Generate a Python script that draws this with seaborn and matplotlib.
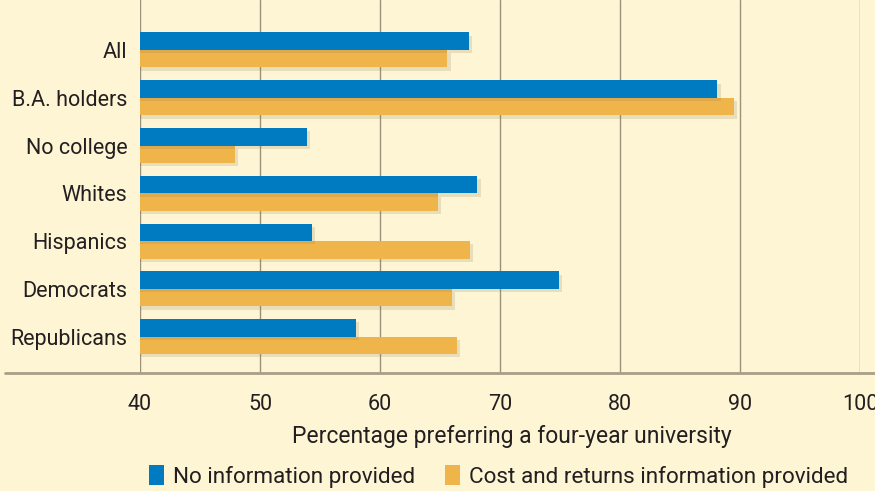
import matplotlib
matplotlib.use("Agg")
import matplotlib.pyplot as plt
import matplotlib.patheffects as pe
from matplotlib.patches import Patch
import seaborn as sns
import pandas as pd

categories = ["All", "B.A. holders", "No college", "Whites", "Hispanics", "Democrats", "Republicans"]
no_info = [67.4, 88.1, 53.9, 68.1, 54.3, 74.9, 58.0]
cost_info = [65.6, 89.5, 47.9, 64.8, 67.5, 66.0, 66.4]
series_names = ["No information provided", "Cost and returns information provided"]
x_ticks = [40, 50, 60, 70, 80, 90, 100]
x_label = "Percentage preferring a four-year university"

BG = "#FDF5D3"
BLUE = "#007BC2"
ORANGE = "#EFB44A"
GRID = "#9C927A"
TEXT = "#231F20"

df = pd.DataFrame({
    "category": categories * 2,
    "value": no_info + cost_info,
    "series": [series_names[0]] * len(categories) + [series_names[1]] * len(categories),
})

sns.set_theme(style="white")
plt.rcParams["font.family"] = ["Roboto", "DejaVu Sans"]

fig = plt.figure(figsize=(8.75, 4.91), dpi=100, facecolor=BG)
ax = fig.add_axes([140 / 875, 1 - 373 / 491, 720 / 875, 373 / 491])
ax.set_facecolor(BG)

sns.barplot(data=df, y="category", x="value", hue="series", orient="h",
            palette=[BLUE, ORANGE], width=0.733, saturation=1, ax=ax,
            legend=False, errorbar=None)

shadow = [pe.SimplePatchShadow(offset=(2.5, -2.5), shadow_rgbFace="#8A7A50", alpha=0.18), pe.Normal()]
for i, cont in enumerate(ax.containers):
    for bar in cont:
        bar.set_edgecolor("none")
        bar.set_path_effects(shadow)
        bar.set_zorder(4 if i == 0 else 3)

ax.set_xlim(40, 100)
ax.set_ylim(6.764, -1.047)
ax.set_xticks(x_ticks)
ax.set_xticklabels([str(t) for t in x_ticks])
for s in ax.spines.values():
    s.set_visible(False)
ax.grid(axis="x", color=GRID, lw=1)
ax.grid(axis="y", visible=False)
ax.set_axisbelow(True)

ax.tick_params(axis="x", length=11, width=1, color=GRID, pad=4, labelsize=15.5, labelcolor=TEXT)
ax.tick_params(axis="y", length=0, pad=9, labelsize=15.5, labelcolor=TEXT)
ax.set_ylabel("")
ax.set_xlabel(x_label, fontsize=16.5, color=TEXT, va="center")
ax.xaxis.set_label_coords((512 - 140) / 720, -(437 - 373) / 373)

ax.plot([-0.1875, 1.03], [0, 0], transform=ax.transAxes, clip_on=False,
        color="#A89F88", lw=2, zorder=5)

handles = [Patch(facecolor=BLUE, edgecolor="none"), Patch(facecolor=ORANGE, edgecolor="none")]
fig.legend(handles, series_names, loc="center", bbox_to_anchor=(0.570, 0.03), ncol=2,
           frameon=False, fontsize=16.2, handlelength=0.65, handleheight=1.0,
           handletextpad=0.4, columnspacing=1.35, labelcolor=TEXT, borderpad=0.2)

fig.savefig("out.png", dpi=100, facecolor=BG)
